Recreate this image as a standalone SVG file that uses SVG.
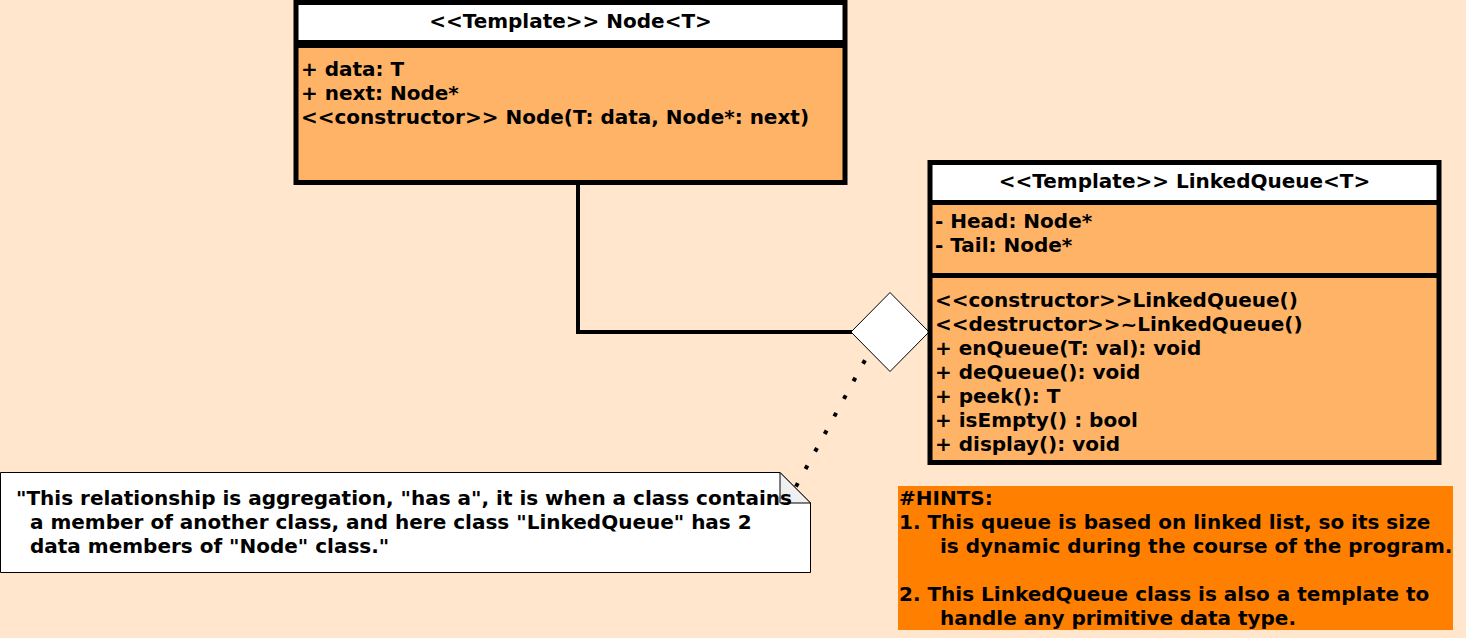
<svg xmlns="http://www.w3.org/2000/svg" width="1466" height="638" viewBox="0 0 1466 638">
<style>
  text { font-family: "DejaVu Sans", "Liberation Sans", sans-serif; font-weight: bold; font-size: 20px; fill: #000; }
  .hdr { text-anchor: middle; }
  .outline { fill: none; stroke: #000; stroke-width: 5; }
  .body { fill: #FFB366; }
  .head { fill: #FFFFFF; }
  .band { fill: #000; }
</style>
<rect x="0" y="0" width="1466" height="638" fill="#FFE6CC"/>

<g id="connectors">
  <polyline points="578,182 578,332 852,332" fill="none" stroke="#000" stroke-width="4"/>
  <line x1="864.96" y1="360.24" x2="793" y2="492" stroke="#000" stroke-width="4" stroke-dasharray="4 16"/>
  <polygon id="aggregation-diamond" points="851,332 890,292.5 929,332 890,371.5" fill="#FFFFFF" stroke="#000" stroke-width="1"/>
</g>

<g id="node-class">
  <rect class="body" x="296" y="2.5" width="549" height="180"/>
  <rect class="head" x="296" y="2.5" width="549" height="40"/>
  <rect class="band" x="296" y="40" width="549" height="8"/>
  <rect class="outline" x="296" y="2.5" width="549" height="180"/>
  <text class="hdr" x="570.5" y="28">&lt;&lt;Template&gt;&gt; Node&lt;T&gt;</text>
  <text x="301" y="76">+ data: T</text>
  <text x="301" y="100">+ next: Node*</text>
  <text x="301" y="124">&lt;&lt;constructor&gt;&gt; Node(T: data, Node*: next)</text>
</g>

<g id="linkedqueue-class">
  <rect class="body" x="930" y="162.5" width="509" height="300"/>
  <rect class="head" x="930" y="162.5" width="509" height="40"/>
  <rect class="band" x="930" y="200" width="509" height="5"/>
  <rect class="band" x="930" y="273" width="509" height="5"/>
  <rect class="outline" x="930" y="162.5" width="509" height="300"/>
  <text class="hdr" x="1184.5" y="188">&lt;&lt;Template&gt;&gt; LinkedQueue&lt;T&gt;</text>
  <text x="935" y="228">- Head: Node*</text>
  <text x="935" y="252">- Tail: Node*</text>
  <text x="935" y="306.5">&lt;&lt;constructor&gt;&gt;LinkedQueue()</text>
  <text x="935" y="330.5">&lt;&lt;destructor&gt;&gt;~LinkedQueue()</text>
  <text x="935" y="354.5">+ enQueue(T: val): void</text>
  <text x="935" y="378.5">+ deQueue(): void</text>
  <text x="935" y="402.5">+ peek(): T</text>
  <text x="935" y="426.5">+ isEmpty() : bool</text>
  <text x="935" y="450.5">+ display(): void</text>
</g>

<g id="note">
  <polygon points="0.5,472.5 780,472.5 810.5,503 810.5,572.5 0.5,572.5" fill="#FFFFFF" stroke="#000" stroke-width="1"/>
  <polygon points="780,472.5 780,503 810.5,503" fill="#F0F0F0" stroke="#000" stroke-width="1"/>
  <text x="16" y="505">"This relationship is aggregation, "has a", it is when a class contains</text>
  <text x="30" y="529">a member of another class, and here class "LinkedQueue" has 2</text>
  <text x="30" y="553">data members of "Node" class."</text>
</g>

<g id="hints">
  <rect x="898" y="486" width="555" height="144" fill="#FF8000"/>
  <text x="899" y="505">#HINTS:</text>
  <text x="899" y="529">1. This queue is based on linked list, so its size</text>
  <text x="940" y="553">is dynamic during the course of the program.</text>
  <text x="899" y="601">2. This LinkedQueue class is also a template to</text>
  <text x="940" y="625">handle any primitive data type.</text>
</g>
</svg>
